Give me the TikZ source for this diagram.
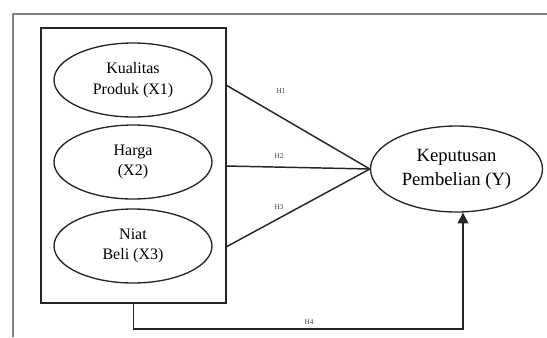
\documentclass[tikz,border=0pt]{standalone}
\usepackage{fontspec}
\setmainfont{Liberation Serif}
\usetikzlibrary{shapes.geometric,arrows.meta}

\begin{document}
\begin{tikzpicture}[x=0.75pt,y=-0.75pt,
        var/.style={draw=black!85, ellipse, line width=1pt, minimum width=118.5pt, minimum height=55.5pt, inner sep=0pt, align=center, font=\fontsize{12}{15.5}\selectfont},
        hyp/.style={font=\fontsize{5.5}{6}\selectfont, text=black!75},
        link/.style={draw=black!85, line width=1.1pt}]
        \useasboundingbox (0,0) rectangle (547,337);

        % outer frame
        \draw[gray, line width=1.5pt](13,337) -- (13,13.5) -- (547,13.5);

        \node[draw=black!85, line width=1.1pt, minimum width=138.75pt, minimum height=206.25pt, inner sep=0pt] (box) at (133.5,165.5){};

        \node[var] (x1) at (133,80){Kualitas\\Produk (X1)};
        \node[var] (x2) at (133,162){Harga\\(X2)};
        \node[var] (x3) at (133,246){Niat\\Beli (X3)};

        \node[var, minimum width=129pt, minimum height=64.5pt, font=\fontsize{14}{18}\selectfont] (y) at (456.5,169){Keputusan\\Pembelian (Y)};

        \coordinate (s1) at (226,85);
        \coordinate (s2) at (226,166);
        \coordinate (s3) at (226,247);
        \coordinate (a4) at (463,329);

        \draw[link](s1) -- (y.west);
        \draw[link](s2) -- (y.west);
        \draw[link](s3) -- (y.west);
        \draw[link, -{Triangle[width=8pt,length=8pt]}](box.south) |- (a4) -- (a4 |- y.south);

        \node[hyp] (lh1) at (281,91){H1};
        \node[hyp] (lh2) at (279,156){H2};
        \node[hyp] (lh3) at (279,207){H3};
        \node[hyp] (lh4) at (309,322){H4};

    \end{tikzpicture}
\end{document}
